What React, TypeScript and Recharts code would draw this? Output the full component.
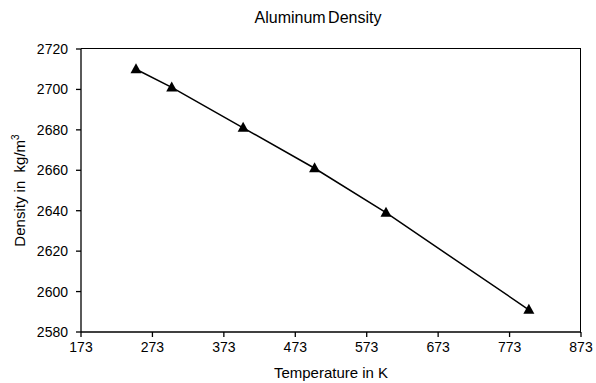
import { LineChart, Line, XAxis, YAxis, Label } from "recharts"

const temperatures = [250, 300, 400, 500, 600, 800]
const densities = [2710, 2701, 2681, 2661, 2639, 2591]
const xTicks = [173, 273, 373, 473, 573, 673, 773, 873]
const yTicks = [2580, 2600, 2620, 2640, 2660, 2680, 2700, 2720]

const data = temperatures.map((t, i) => ({ temperature: t, density: densities[i] }))

const font = "'Liberation Sans', Arial, sans-serif"

function Triangle(props: any) {
  const { cx, cy } = props
  if (cx == null || cy == null) return null
  return <polygon points={`${cx},${cy - 6} ${cx - 5.5},${cy + 4} ${cx + 5.5},${cy + 4}`} fill="#000" />
}

export default function App() {
  return (
    <div style={{ position: "absolute", left: 0, top: 0, width: 596, height: 383, background: "#fff", fontFamily: font }}>
      <div style={{ position: "absolute", top: 9, left: 0, width: 636, textAlign: "center", fontSize: 16, color: "#000", wordSpacing: -2 }}>
        Aluminum Density
      </div>
      {/* frame: top and right edges of the plot box */}
      <div style={{ position: "absolute", left: 81, top: 48, width: 499, height: 284, borderTop: "1.3px solid #000", borderRight: "1.3px solid #000" }} />
      <LineChart width={596} height={383} data={data} margin={{ top: 49, right: 15, bottom: 0, left: 0 }}>
        <XAxis
          dataKey="temperature"
          type="number"
          domain={[173, 873]}
          ticks={xTicks}
          height={51}
          tickSize={5}
          tickMargin={5}
          stroke="#000"
          strokeWidth={1.3}
          tick={{ fill: "#000", fontSize: 14, fontFamily: font }}
        >
          <Label
            content={({ viewBox }: any) => (
              <text x={viewBox.x + viewBox.width / 2} y={378} textAnchor="middle" fill="#000" fontSize={15} fontFamily={font}>
                Temperature in K
              </text>
            )}
          />
        </XAxis>
        <YAxis
          type="number"
          domain={[2580, 2720]}
          ticks={yTicks}
          width={81}
          tickSize={5}
          tickMargin={8}
          stroke="#000"
          strokeWidth={1.3}
          tick={{ fill: "#000", fontSize: 14, fontFamily: font }}
        >
          <Label
            content={({ viewBox }: any) => {
              const cy = viewBox.y + viewBox.height / 2
              return (
                <text x={25} y={cy} transform={`rotate(-90, 25, ${cy})`} textAnchor="middle" fill="#000" fontSize={15} fontFamily={font}>
                  {"Density in\u00a0 kg/m"}<tspan fontSize={10} dy={-6}>3</tspan>
                </text>
              )
            }}
          />
        </YAxis>
        <Line
          type="linear"
          dataKey="density"
          stroke="#000"
          strokeWidth={1.5}
          dot={<Triangle />}
          activeDot={false}
          isAnimationActive={false}
        />
      </LineChart>
    </div>
  )
}
